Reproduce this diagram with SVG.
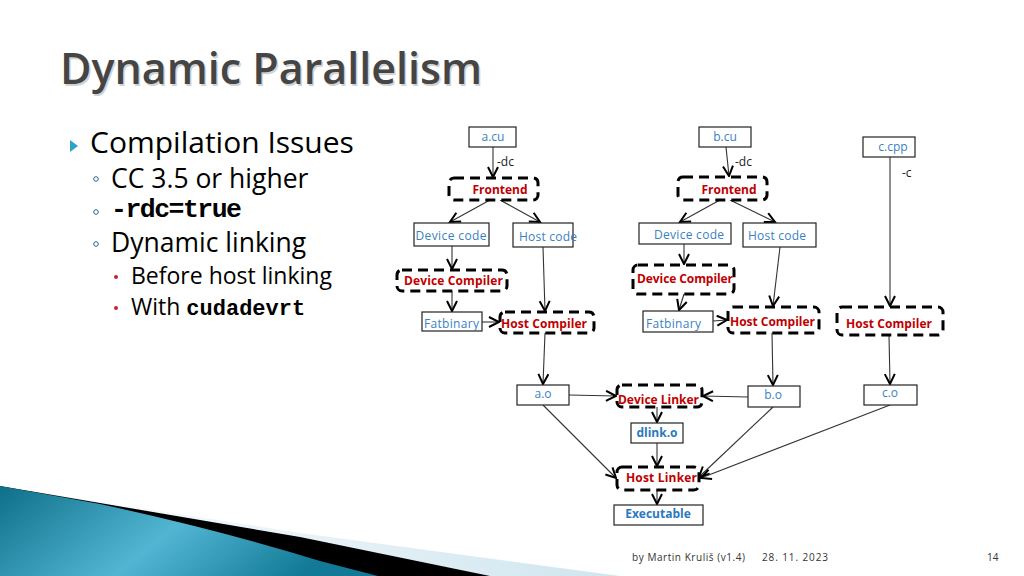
<svg xmlns="http://www.w3.org/2000/svg" width="1024" height="576" viewBox="0 0 1024 576">
<defs>
<style>
.title{font-family:"Open Sans","DejaVu Sans",sans-serif;font-size:43px;font-weight:600;fill:#454545}
.shadow{font-family:"Open Sans","DejaVu Sans",sans-serif;font-size:43px;font-weight:600;fill:#d2d2d2}
.b1{font-family:"Open Sans","DejaVu Sans",sans-serif;font-size:30px;fill:#000}
.b2{font-family:"Open Sans","DejaVu Sans",sans-serif;font-size:26.5px;fill:#000}
.b3{font-family:"Open Sans","DejaVu Sans",sans-serif;font-size:23px;fill:#000}
.mono{font-family:"Liberation Mono","DejaVu Sans Mono",monospace;font-weight:bold}
.box{fill:#fff;stroke:#222;stroke-width:1.2}
.dash{fill:#fff;stroke:#000;stroke-width:3;stroke-dasharray:10 6}
.lb{font-family:"Open Sans","Liberation Sans",sans-serif;font-size:12px;fill:#3a7fc1}
.lbb{font-family:"Open Sans","Liberation Sans",sans-serif;font-size:12px;font-weight:bold;fill:#2a78c0}
.lr{font-family:"Open Sans","Liberation Sans",sans-serif;font-size:12px;font-weight:bold;fill:#c00000}
.lk{font-family:"Open Sans","Liberation Sans",sans-serif;font-size:12px;fill:#222}
.edge{stroke:#333;stroke-width:1.1;fill:none;marker-end:url(#arr)}
.foot{font-family:"Open Sans","Liberation Sans",sans-serif;font-size:10px;fill:#333}
</style>
<marker id="arr" markerUnits="userSpaceOnUse" markerWidth="14" markerHeight="14" refX="11" refY="6" orient="auto">
<path d="M1,1 L11,6 L1,11" fill="none" stroke="#000" stroke-width="2"/>
</marker>
<linearGradient id="teal" x1="0" y1="0" x2="1" y2="0.3">
<stop offset="0" stop-color="#0f6f89"/>
<stop offset="0.55" stop-color="#52b6d3"/>
<stop offset="1" stop-color="#127a96"/>
</linearGradient>
<linearGradient id="light" x1="0" y1="0" x2="1" y2="0">
<stop offset="0" stop-color="#ffffff"/>
<stop offset="1" stop-color="#cfe5ef"/>
</linearGradient>
</defs>
<rect width="1024" height="576" fill="#fff"/>

<g id="decoration">
<polygon points="0,486 300,533 620,576 0,576" fill="url(#light)"/>
<polygon points="0,486 100,503 300,537 490,576 0,576" fill="#000"/>
<path d="M0,486 L100,504 Q220,530 320,561 L378,576 L0,576 Z" fill="url(#teal)"/>
</g>

<g id="title">
<text class="shadow" x="61.5" y="85.5" textLength="422">Dynamic Parallelism</text>
<text class="title" x="60" y="84" textLength="422">Dynamic Parallelism</text>
</g>

<g id="bullets">
<polygon points="70,140 78,146 70,152" fill="#2fa3c7"/>
<text class="b1" x="90" y="153">Compilation Issues</text>
<circle cx="96" cy="179" r="2.3" fill="none" stroke="#2a6a90" stroke-width="1"/>
<text class="b2" x="111" y="188">CC 3.5 or higher</text>
<circle cx="96" cy="212" r="2.3" fill="none" stroke="#2a6a90" stroke-width="1"/>
<text class="b2 mono" x="111" y="217" font-size="23" textLength="131">-rdc=true</text>
<circle cx="96" cy="244" r="2.3" fill="none" stroke="#2a6a90" stroke-width="1"/>
<text class="b2" x="111" y="252" font-size="26">Dynamic linking</text>
<circle cx="116" cy="277" r="2" fill="#c0282d"/>
<text class="b3" x="131" y="284">Before host linking</text>
<circle cx="116" cy="308" r="2" fill="#c0282d"/>
<text class="b3" x="131" y="315">With <tspan class="mono" font-size="22">cudadevrt</tspan></text>
</g>

<g id="connectors">
<line class="edge" x1="493" y1="147" x2="493" y2="177"/>
<line class="edge" x1="490" y1="200" x2="450" y2="222"/>
<line class="edge" x1="500" y1="200" x2="540" y2="222"/>
<line class="edge" x1="452" y1="246" x2="452" y2="269"/>
<line class="edge" x1="452" y1="291" x2="452" y2="311"/>
<line class="edge" x1="482" y1="322" x2="499" y2="322"/>
<line class="edge" x1="543" y1="247" x2="545" y2="311"/>

<line class="edge" x1="726" y1="147" x2="729" y2="176"/>
<line class="edge" x1="720" y1="200" x2="680" y2="222"/>
<line class="edge" x1="730" y1="200" x2="775" y2="222"/>
<line class="edge" x1="684" y1="244" x2="684" y2="264"/>
<line class="edge" x1="684" y1="294" x2="679" y2="310"/>
<line class="edge" x1="713" y1="321" x2="727" y2="320"/>
<line class="edge" x1="780" y1="247" x2="773" y2="306"/>

<line class="edge" x1="890" y1="157" x2="890" y2="306"/>

<line class="edge" x1="545" y1="333" x2="543" y2="384"/>
<line class="edge" x1="772" y1="333" x2="773" y2="385"/>
<line class="edge" x1="889" y1="335" x2="890" y2="384"/>
<line class="edge" x1="569" y1="395" x2="616" y2="396"/>
<line class="edge" x1="748" y1="397" x2="703" y2="396"/>
<line class="edge" x1="657" y1="407" x2="657" y2="422"/>
<line class="edge" x1="657" y1="443" x2="657" y2="466"/>
<line class="edge" x1="543" y1="405" x2="616" y2="478"/>
<line class="edge" x1="773" y1="407" x2="699" y2="477"/>
<line class="edge" x1="890" y1="405" x2="701" y2="478"/>
<line class="edge" x1="657" y1="490" x2="657" y2="504"/>
<text class="lk" x="497" y="166">-dc</text>
<text class="lk" x="735" y="166">-dc</text>
<text class="lk" x="902" y="177">-c</text>
</g>

<g id="a_cu"><rect class="box" x="469" y="127" width="47" height="20"/><text class="lb" x="493" y="141" text-anchor="middle">a.cu</text></g>
<g id="a_frontend"><rect class="dash" x="449" y="178" width="89" height="22" rx="5"/><text class="lr" x="500" y="194" text-anchor="middle">Frontend</text></g>
<g id="a_device_code"><rect class="box" x="414" y="223" width="75" height="23"/><text class="lb" x="451" y="240" text-anchor="middle" textLength="71">Device code</text></g>
<g id="a_host_code"><rect class="box" x="513" y="223" width="60" height="24"/><text class="lb" x="519" y="241" textLength="58">Host code</text></g>
<g id="a_device_compiler"><rect class="dash" x="397" y="270" width="110" height="21" rx="5"/><text class="lr" x="404" y="285" textLength="99">Device Compiler</text></g>
<g id="a_fatbinary"><rect class="box" x="422" y="312" width="60" height="19"/><text class="lb" x="424" y="328" textLength="55">Fatbinary</text></g>
<g id="a_host_compiler"><rect class="dash" x="500" y="312" width="94" height="21" rx="5"/><text class="lr" x="501" y="328" textLength="86">Host Compiler</text></g>

<g id="b_cu"><rect class="box" x="699" y="127" width="52" height="20"/><text class="lb" x="725" y="141" text-anchor="middle">b.cu</text></g>
<g id="b_frontend"><rect class="dash" x="678" y="177" width="89" height="23" rx="5"/><text class="lr" x="729" y="194" text-anchor="middle">Frontend</text></g>
<g id="b_device_code"><rect class="box" x="639" y="223" width="92" height="21"/><text class="lb" x="654" y="239" textLength="70">Device code</text></g>
<g id="b_host_code"><rect class="box" x="743" y="223" width="73" height="24"/><text class="lb" x="748" y="240" textLength="58">Host code</text></g>
<g id="b_device_compiler"><rect class="dash" x="633" y="265" width="101" height="29" rx="5"/><text class="lr" x="637" y="283" textLength="96">Device Compiler</text></g>
<g id="b_fatbinary"><rect class="box" x="643" y="311" width="70" height="21"/><text class="lb" x="646" y="328" textLength="55">Fatbinary</text></g>
<g id="b_host_compiler"><rect class="dash" x="728" y="307" width="91" height="26" rx="5"/><text class="lr" x="730" y="326" textLength="85">Host Compiler</text></g>

<g id="c_cpp"><rect class="box" x="863" y="137" width="52" height="20"/><text class="lb" x="893" y="151" text-anchor="middle">c.cpp</text></g>
<g id="c_host_compiler"><rect class="dash" x="837" y="307" width="106" height="28" rx="5"/><text class="lr" x="846" y="328" textLength="86">Host Compiler</text></g>

<g id="a_o"><rect class="box" x="517" y="385" width="52" height="20"/><text class="lb" x="543" y="398" text-anchor="middle">a.o</text></g>
<g id="device_linker"><rect class="dash" x="617" y="385" width="85" height="22" rx="5"/><text class="lr" x="618" y="404" textLength="81">Device Linker</text></g>
<g id="b_o"><rect class="box" x="748" y="386" width="52" height="21"/><text class="lb" x="773" y="399" text-anchor="middle">b.o</text></g>
<g id="c_o"><rect class="box" x="864" y="385" width="53" height="20"/><text class="lb" x="890" y="397" text-anchor="middle">c.o</text></g>
<g id="dlink_o"><rect class="box" x="631" y="423" width="52" height="20"/><text class="lbb" x="657" y="437" text-anchor="middle">dlink.o</text></g>
<g id="host_linker"><rect class="dash" x="617" y="467" width="82" height="23" rx="5"/><text class="lr" x="626" y="482" textLength="71">Host Linker</text></g>
<g id="executable"><rect class="box" x="614" y="505" width="89" height="20"/><text class="lbb" x="658" y="518" text-anchor="middle">Executable</text></g>

<g id="footer">
<text class="foot" x="632" y="561" textLength="113">by Martin Kruliš (v1.4)</text>
<text class="foot" x="762" y="561" textLength="66">28. 11. 2023</text>
<text class="foot" x="987" y="561">14</text>
</g>
</svg>
